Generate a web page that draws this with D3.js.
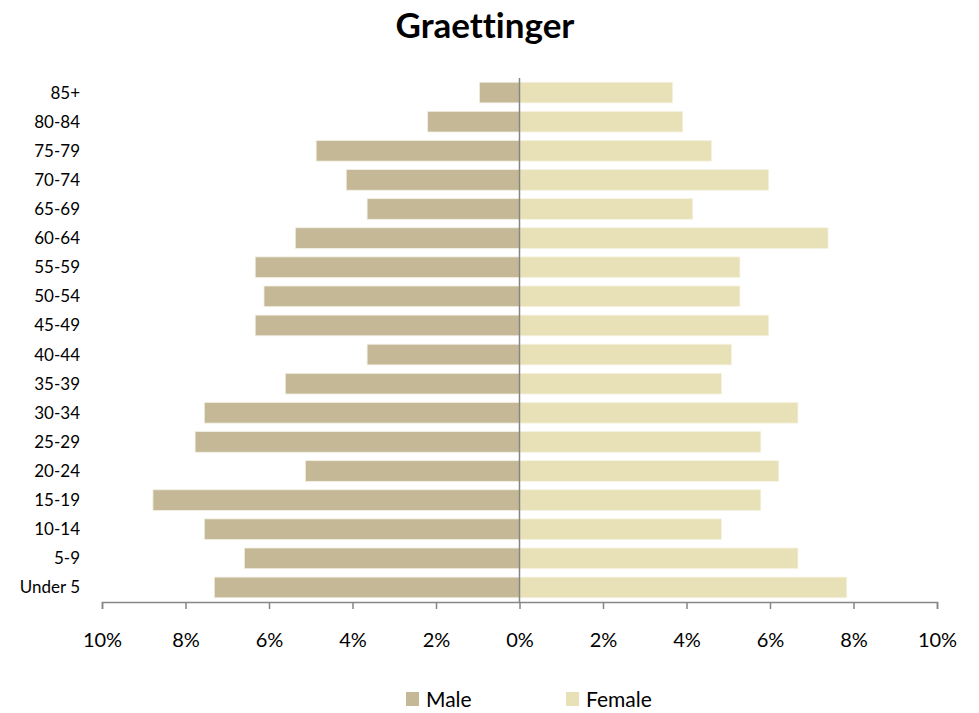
<!DOCTYPE html>
<html>
<head>
<meta charset="utf-8">
<script src="https://cdn.jsdelivr.net/npm/d3@7"></script>
<style>
  body { margin: 0; background: #fff; }
  text { font-family: Lato, "Open Sans", sans-serif; fill: #000; font-variant-ligatures: none; }
</style>
</head>
<body>
<div id="chart"></div>
<script>
var ageGroups = ["85+", "80-84", "75-79", "70-74", "65-69", "60-64", "55-59", "50-54", "45-49",
    "40-44", "35-39", "30-34", "25-29", "20-24", "15-19", "10-14", "5-9", "Under 5"];
var male = [0.96, 2.2, 4.87, 4.15, 3.65, 5.37, 6.33, 6.12, 6.33,
    3.65, 5.61, 7.55, 7.77, 5.13, 8.78, 7.55, 6.59, 7.31];
var female = [3.67, 3.91, 4.6, 5.97, 4.15, 7.39, 5.28, 5.28, 5.97,
    5.08, 4.84, 6.67, 5.78, 6.21, 5.78, 4.84, 6.67, 7.84];
var xTicks = [-10, -8, -6, -4, -2, 0, 2, 4, 6, 8, 10];
var seriesNames = ["Male", "Female"];
var colors = ["#c4b896", "#e8e0b6"];

var fullWidth = 979, fullHeight = 713;
var margin = { left: 102, right: 42, top: 78, bottom: 111 };
var width = fullWidth - margin.left - margin.right;
var height = fullHeight - margin.top - margin.bottom;

var svg = d3.select("#chart").append("svg")
    .attr("width", fullWidth).attr("height", fullHeight);

svg.append("text")
    .attr("x", 485).attr("y", 38)
    .attr("text-anchor", "middle")
    .style("font-size", "35px").style("font-weight", "bold")
    .text("Graettinger");

var g = svg.append("g").attr("transform", "translate(" + margin.left + "," + margin.top + ")");

var x = d3.scaleLinear().domain([-10, 10]).range([0, width]);
var y = d3.scaleBand().domain(ageGroups).range([0, height]).paddingInner(0.29).paddingOuter(0.145);

// male bars
g.selectAll(".male").data(ageGroups).enter().append("rect")
    .attr("x", (d, i) => x(-male[i]))
    .attr("y", d => y(d))
    .attr("width", (d, i) => x(0) - x(-male[i]))
    .attr("height", y.bandwidth())
    .attr("fill", colors[0])
    .attr("stroke", "#f3efe2").attr("stroke-width", 0.8);

// female bars
g.selectAll(".female").data(ageGroups).enter().append("rect")
    .attr("x", x(0))
    .attr("y", d => y(d))
    .attr("width", (d, i) => x(female[i]) - x(0))
    .attr("height", y.bandwidth())
    .attr("fill", colors[1])
    .attr("stroke", "#f7f3e4").attr("stroke-width", 0.8);

// center line
g.append("line")
    .attr("x1", x(0)).attr("x2", x(0))
    .attr("y1", 0).attr("y2", height)
    .attr("stroke", "#868686").attr("stroke-width", 1.5);

// x axis
var xAxis = d3.axisBottom(x).tickValues(xTicks)
    .tickFormat(d => Math.abs(d) + "%").tickSize(7).tickPadding(24);
var xg = g.append("g").attr("transform", "translate(0," + height + ")").call(xAxis);
xg.select(".domain").attr("stroke", "#868686").attr("stroke-width", 1.5);
xg.selectAll(".tick line").attr("stroke", "#868686").attr("stroke-width", 1.5);
xg.selectAll("text").style("font-size", "20px");

// y labels
g.selectAll(".ylab").data(ageGroups).enter().append("text")
    .attr("x", -22)
    .attr("y", d => y(d) + y.bandwidth() / 2)
    .attr("dy", "0.35em")
    .attr("text-anchor", "end")
    .style("font-size", "17px")
    .text(d => d);

// legend
var legendX = [406, 566];
var legend = svg.selectAll(".legend").data(seriesNames).enter().append("g")
    .attr("transform", (d, i) => "translate(" + legendX[i] + ",692)");
legend.append("rect").attr("width", 13).attr("height", 14)
    .attr("fill", (d, i) => colors[i]);
legend.append("text").attr("x", 20).attr("y", 7).attr("dy", "0.37em")
    .style("font-size", "21px").text(d => d);
</script>
</body>
</html>
